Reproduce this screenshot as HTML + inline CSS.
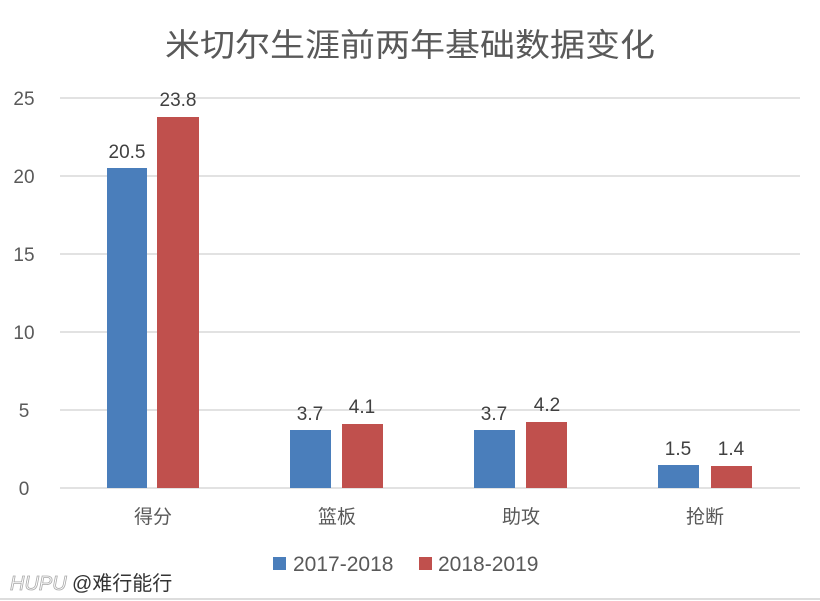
<!DOCTYPE html>
<html><head><meta charset="utf-8"><style>
html,body{margin:0;padding:0;background:#fff;}
svg{display:block;font-family:"Liberation Sans","Noto Sans CJK SC",sans-serif;}
</style></head><body>
<svg width="820" height="601" viewBox="0 0 820 601">
<rect width="820" height="601" fill="#fff"/>
<line x1="0" y1="599" x2="820" y2="599" stroke="#ddd" stroke-width="2"/>
<text x="410" y="56" text-anchor="middle" font-size="32" fill="#595959" textLength="490" lengthAdjust="spacingAndGlyphs">米切尔生涯前两年基础数据变化</text>
<g stroke="#d9d9d9" stroke-width="1.5">
<line x1="60" y1="98" x2="800" y2="98"/>
<line x1="60" y1="176" x2="800" y2="176"/>
<line x1="60" y1="254" x2="800" y2="254"/>
<line x1="60" y1="332" x2="800" y2="332"/>
<line x1="60" y1="410" x2="800" y2="410"/>
<line x1="60" y1="488" x2="800" y2="488"/>
</g>
<g font-size="19" fill="#595959" text-anchor="middle">
<text x="24" y="105">25</text>
<text x="24" y="183">20</text>
<text x="24" y="261">15</text>
<text x="24" y="339">10</text>
<text x="24" y="417">5</text>
<text x="24" y="495">0</text>
</g>
<g fill="#4a7ebb">
<rect x="107" y="168" width="40" height="320"/>
<rect x="290" y="430" width="41" height="58"/>
<rect x="474" y="430" width="41" height="58"/>
<rect x="658" y="465" width="41" height="23"/>
</g>
<g fill="#c0504d">
<rect x="157" y="117" width="42" height="371"/>
<rect x="342" y="424" width="41" height="64"/>
<rect x="526" y="422" width="41" height="66"/>
<rect x="711" y="466" width="41" height="22"/>
</g>
<g font-size="19" fill="#404040" text-anchor="middle">
<text x="127" y="158">20.5</text>
<text x="178" y="106">23.8</text>
<text x="310" y="420">3.7</text>
<text x="362" y="413">4.1</text>
<text x="494" y="420">3.7</text>
<text x="547" y="411">4.2</text>
<text x="678" y="455">1.5</text>
<text x="731" y="455">1.4</text>
</g>
<g font-size="19" fill="#595959" text-anchor="middle">
<text x="153" y="523">得分</text>
<text x="337" y="523">篮板</text>
<text x="521" y="523">助攻</text>
<text x="705" y="523">抢断</text>
</g>
<rect x="273" y="557" width="13" height="13" fill="#4a7ebb"/>
<text x="293" y="571" font-size="21" fill="#595959">2017-2018</text>
<rect x="419" y="557" width="13" height="13" fill="#c0504d"/>
<text x="438" y="571" font-size="21" fill="#595959">2018-2019</text>
<text x="10" y="590" font-size="20" font-style="italic" fill="#fff" stroke="#aaa" stroke-width="0.8">HUPU</text>
<text x="72" y="590" font-size="20" fill="#333">@难行能行</text>
</svg>
</body></html>
